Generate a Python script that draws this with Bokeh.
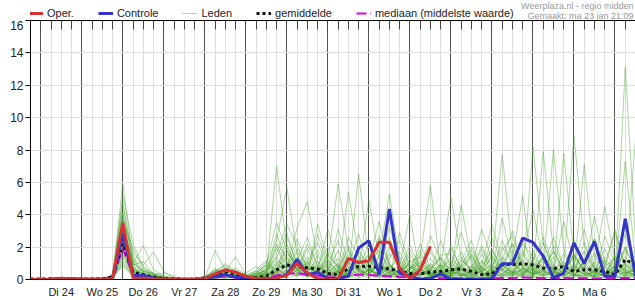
from bokeh.plotting import figure
from bokeh.layouts import column
from bokeh.models import Range1d, FixedTicker, LinearAxis, Legend, LegendItem, Label
from bokeh.embed import file_html
from bokeh.resources import INLINE
import pandas as pd

# ---- data (6-hourly, from ma 23 jan 18:00) ----
start = pd.Timestamp("2023-01-23 18:00")
n_steps = 60
dag_labels = ["Di 24", "Wo 25", "Do 26", "Vr 27", "Za 28", "Zo 29", "Ma 30",
              "Di 31", "Wo 1", "Do 2", "Vr 3", "Za 4", "Zo 5", "Ma 6"]
y_ticks = [0, 2, 4, 6, 8, 10, 12, 14, 16]

oper = [0,0,0.02,0.08,0.05,0.02,0.02,0.02,0.05, 3.5, 0.1,0.08,0.05,0.03,0.02,0.02,0.02,
        0.05,0.35,0.6,0.45,0.2, 0.05,0.05,0.1,0.25,1.0,0.4,0.05,0,
        0,1.3,1.05,1.15,2.3,2.3,0.7,0.05,0.6,2.05]

controle = [0,0,0.02,0.05,0.05,0.02,0.02,0.02,0.05, 2.8, 0.25,0.25,0.1,0.03,0.02,0.02,0.02,
            0.05,0.2,0.3,0.15,0.1, 0.05,0.05,0.1,0.3,1.25,0.3,0.45,0.05,
            0.05,0.2,1.95,2.4,0.3,4.35,0.4,0.2,0.02,0.05,
            0.35,0.02,0.02,0.02,0.02,0.05,0.98,0.98,2.56,2.3,
            1.44,0.1,0.4,2.26,0.98,2.36,0.2,0.2,3.75,0.2]

gemiddelde = [0.03,0.03,0.05,0.05,0.05,0.03,0.03,0.05,0.15, 2.2, 0.45,0.3,0.15,0.07,0.03,0.02,0.02,
              0.1,0.25,0.4,0.25,0.12, 0.1,0.2,0.6,0.9,0.8,0.72,0.65,0.37,
              0.3,0.65,0.8,0.82,0.75,0.65,0.5,0.38,0.35,0.45,
              0.5,0.6,0.65,0.5,0.3,0.35,0.92,0.92,0.98,0.9,
              0.7,0.65,0.82,0.5,0.6,0.6,0.5,0.3,1.23,0.9]

mediaan = [0,0,0,0,0,0,0,0,0.08, 1.9, 0.3,0.2,0.1,0,0,0,0,
           0,0.1,0.2,0.1,0.05, 0.05,0.1,0.25,0.35,0.4,0.3,0.25,0.15,
           0.1,0.25,0.3,0.28,0.22,0.2,0.15,0.1,0.1,0.08,
           0.08,0.1,0.08,0.06,0.05,0.08,0.1,0.1,0.12,0.1,
           0.1,0.08,0.1,0.08,0.08,0.06,0.08,0.06,0.1,0.08]

lid01 = [0,0,0,0,0,0,0,0,0.1, 5.9, 1.2,0.4,0.2,0,0,0,0, 0,0.3,0.2,0.1,0, 0.1,0.5,7.0,2.0,0.8,0.3,1.5,0.4,0.2,1.1,0.6,0.3,2.1,0.5,0.1,0.3,1.2,0.4, 0.2,0.9,0.3,0.1,0.6,1.8,0.7,0.3,1.2,0.5,2.3,0.6,0.2,1.0,3.1,0.8,0.3,1.5,0.6,0.2]
lid02 = [0,0,0.1,0,0,0,0,0,0.2, 5.2, 2.2,0.8,0.3,0.1,0,0,0, 0.1,1.8,0.6,0.2,0, 0.3,1.0,2.4,5.7,1.5,0.6,0.9,0.2,0.5,2.6,1.4,0.4,0.8,3.2,1.1,0.2,0.6,1.9, 0.7,0.3,1.1,2.4,0.5,0.9,7.7,1.6,0.4,0.8,1.3,0.2,0.6,2.0,0.9,0.3,1.1,0.5,1.8,0.9]
lid03 = [0,0,0,0,0,0,0,0,0.1, 4.8, 1.0,2.1,0.6,0.2,0.1,0,0, 0,0.2,0.5,1.4,0.3, 0.1,0.2,1.1,0.8,3.2,4.8,1.2,0.3,0.1,0.4,1.7,0.9,0.2,1.3,2.4,0.6,1.0,0.3, 0.5,1.4,0.6,0.2,0.1,0.8,2.0,1.1,0.3,8.2,2.2,0.7,0.4,1.6,0.5,0.2,2.7,1.0,0.4,1.3]
lid04 = [0,0,0,0.1,0,0,0,0,0.3, 4.5, 1.6,0.9,1.7,0.5,0.1,0,0, 0,0.4,0.8,0.3,0.1, 0.4,0.9,3.5,1.8,0.6,1.9,0.5,3.1,0.8,0.3,6.5,1.2,0.4,0.9,0.3,1.1,1.4,5.8, 0.6,0.3,0.9,1.8,0.7,0.4,1.2,3.0,0.9,0.5,7.9,1.7,0.6,0.3,1.0,2.5,0.8,0.2,7.3,1.1]
lid05 = [0,0,0,0,0,0,0,0,0.1, 4.2, 0.9,0.5,0.2,0.1,0,0,0, 0.1,0.6,0.3,0.1,0, 0,0.3,1.6,3.4,2.1,0.7,0.4,1.2,5.9,1.8,0.6,4.9,1.3,0.4,0.2,0.8,0.3,0.6, 1.5,1.6,0.4,0.9,0.3,1.5,0.6,0.2,2.2,1.4,0.7,8.0,1.9,0.5,0.8,0.3,1.2,0.6,0.2,0.9]
lid06 = [0,0.1,0,0,0,0,0,0,0.2, 4.0, 1.4,0.6,0.3,0.4,0.2,0,0, 0,0.1,0.2,0.5,0.2, 0.6,1.2,0.5,2.6,1.0,0.3,2.8,0.9,0.4,5.4,1.5,0.7,0.3,1.6,0.8,4.0,0.2,0.7, 1.3,0.5,4.6,1.2,0.4,0.2,0.9,1.8,0.6,0.3,1.1,0.4,7.8,1.5,0.6,0.9,4.5,1.2,0.3,0.6]
lid07 = [0,0,0,0,0,0.1,0,0,0.1, 3.8, 0.7,0.3,0.1,0,0,0,0, 0,0.5,0.9,0.4,0.1, 0.2,0.1,0.8,1.3,0.5,2.2,0.9,0.4,3.1,1.0,0.5,0.2,1.4,5.3,1.2,0.4,0.9,0.3, 0.8,5.1,1.3,0.5,1.9,0.6,0.3,1.0,0.4,1.7,0.6,0.2,0.8,8.9,2.1,0.7,0.3,1.4,0.5,8.7]
lid08 = [0,0,0,0,0,0,0,0.1,0.2, 3.6, 1.9,0.7,0.4,0.1,0,0,0, 0.1,0.3,0.6,0.2,0.1, 0.5,0.3,2.1,0.9,0.4,1.1,0.6,0.2,0.8,0.3,1.9,0.6,2.7,0.9,0.4,1.8,0.5,0.2, 1.0,0.4,0.2,0.7,3.1,1.2,0.5,1.3,5.2,0.4,0.9,0.3,1.6,0.5,7.1,1.3,0.6,0.2,13.1,2.4]
lid09 = [0,0,0,0,0,0,0,0,0.1, 3.5, 0.6,0.2,0.1,0,0,0,0, 0,0.2,0.4,0.6,0.2, 0.3,0.6,1.9,0.7,2.5,1.0,0.3,0.6,1.8,0.5,0.2,1.1,3.6,0.9,0.3,0.5,2.2,0.7, 0.3,0.8,2.9,1.0,0.4,2.6,0.9,0.3,1.4,4.3,1.1,0.5,0.2,0.7,1.8,0.6,0.2,0.9,3.3,0.8]
lid10 = [0,0,0,0,0,0,0,0,0.2, 3.3, 1.1,0.4,0.2,0.1,0,0,0, 0.1,0.7,0.3,0.2,0.1, 0.2,0.8,0.4,1.6,0.9,0.4,3.4,1.2,0.5,0.9,2.8,0.6,0.3,0.8,0.4,1.5,0.6,2.7, 1.2,0.4,0.7,0.3,1.6,0.5,3.8,1.2,0.4,0.9,0.3,2.1,0.8,0.3,0.6,3.9,1.0,0.4,0.7,0.2]
lid11 = [0,0,0,0,0.1,0,0,0,0.1, 3.1, 0.8,0.3,0.2,0,0,0,0, 0,0.1,0.3,0.2,0.4, 0.8,0.4,0.3,2.2,0.6,0.2,0.9,2.0,0.7,0.3,0.5,1.6,0.6,0.2,2.9,0.8,0.3,0.5, 2.4,0.7,0.3,0.5,0.9,3.4,1.1,0.4,0.6,0.2,1.3,0.5,3.6,1.0,0.4,0.2,0.8,2.9,0.9,0.3]
lid12 = [0,0,0,0,0,0,0,0.1,0.1, 3.0, 0.5,0.3,0.1,0,0,0,0, 0.2,0.5,0.2,0.1,0, 0.1,0.4,2.8,1.1,0.5,1.4,0.4,0.2,0.6,1.9,0.5,2.3,0.8,0.3,0.1,0.6,1.4,0.4, 0.2,2.0,0.6,1.5,0.4,0.2,1.8,2.7,0.8,0.3,0.6,0.2,0.4,2.4,0.7,1.6,0.5,0.3,2.0,0.5]
lid13 = [0,0,0,0,0,0,0,0,0.2, 2.9, 1.3,0.5,0.4,0.2,0.1,0,0, 0,0.3,0.2,0.3,0.1, 0.4,0.2,0.9,0.5,1.7,0.7,0.3,1.5,0.8,0.2,0.4,0.9,1.8,0.6,0.2,0.3,0.8,1.3, 0.5,0.2,1.2,0.6,2.1,0.8,0.3,0.9,2.5,0.7,0.3,1.4,0.5,0.2,1.2,0.4,0.9,3.1,0.6,1.5]
lid14 = [0,0.1,0,0,0,0,0,0,0.1, 2.7, 0.9,1.1,0.3,0.1,0,0,0, 0,0.4,1.0,0.5,0.2, 0.2,0.6,1.3,2.9,0.8,0.3,0.5,0.9,2.4,0.7,0.3,0.6,0.2,2.0,0.7,0.3,0.5,0.9, 0.4,1.1,0.3,0.2,0.8,1.9,0.6,2.2,0.7,0.3,1.5,0.6,0.2,0.5,1.7,0.4,0.2,0.6,2.8,0.7]
lid15 = [0,0,0,0,0,0,0,0,0.1, 2.5, 0.4,0.2,0.1,0,0,0,0, 0,0.1,0.2,0.1,0, 0.1,0.3,0.6,0.4,1.2,2.6,0.8,0.3,0.1,0.7,1.2,0.4,0.9,0.3,0.6,2.1,0.7,0.2, 0.9,0.3,0.5,1.4,0.4,0.1,0.6,1.3,0.4,0.2,0.9,2.6,0.8,0.3,0.1,0.5,1.9,0.6,0.2,1.2]
lid16 = [0,0,0,0,0,0,0.1,0,0.3, 2.4, 0.7,0.3,0.2,0.1,0,0,0, 0.1,0.6,0.4,0.7,0.3, 0.5,1.1,0.4,0.8,0.3,0.9,1.8,0.6,0.2,1.4,0.5,0.3,1.1,0.4,1.7,0.5,0.2,1.0, 0.3,0.6,1.7,0.5,1.2,0.4,0.2,0.8,1.6,0.5,0.2,0.7,1.1,0.4,2.3,0.6,0.3,1.2,0.5,0.2]
lid17 = [0,0,0,0,0,0,0,0,0.1, 2.2, 0.5,0.2,0.1,0,0,0,0, 0,0.2,0.1,0.3,0.1, 0,0.2,0.7,0.3,0.9,0.4,0.2,0.7,1.3,0.5,0.2,0.6,0.3,1.0,0.4,0.2,1.6,0.5, 0.2,0.4,0.9,0.3,0.1,0.5,1.4,0.5,0.2,1.0,0.4,0.2,0.6,1.3,0.4,0.2,0.7,0.3,1.0,0.3]
lid18 = [0,0,0,0,0,0,0,0,0, 2.0, 0.3,0.1,0,0,0,0,0, 0,0.1,0.3,0.2,0, 0.2,0.5,1.0,0.4,0.2,0.6,1.1,0.3,0.1,0.5,0.9,1.5,0.4,0.2,0.6,0.9,0.3,0.1, 0.6,0.2,0.3,0.8,0.3,0.6,0.2,0.4,1.1,0.3,0.7,0.2,0.5,0.9,0.3,0.1,0.4,0.8,0.3,0.6]
lid19 = [0,0,0,0,0,0,0,0,0.1, 1.9, 0.6,0.4,0.2,0.1,0,0,0, 0,0.2,0.1,0.2,0.1, 0.3,0.2,0.5,1.0,0.4,0.3,0.8,0.4,1.0,0.3,0.7,0.2,0.5,0.8,0.3,1.2,0.4,0.6, 0.3,0.9,0.2,0.5,0.7,0.2,0.9,0.4,0.3,0.6,1.3,0.4,0.2,0.6,0.3,0.9,0.4,0.2,0.5,0.3]
lid20 = [0,0,0,0,0,0,0,0,0.1, 1.8, 0.4,0.6,0.3,0,0,0,0, 0,0.3,0.5,0.3,0.1, 0.1,0.4,0.2,0.6,0.3,1.0,0.4,0.2,0.5,0.8,0.3,0.6,0.2,0.4,0.9,0.3,0.6,0.2, 0.4,0.2,0.6,0.3,0.5,0.9,0.3,0.2,0.7,0.3,0.5,0.2,0.4,0.8,0.3,0.5,0.2,0.6,0.4,0.2]
lid21 = [0,0,0,0,0,0,0,0,0.1, 1.6, 0.3,0.2,0.1,0,0,0,0, 0,0.1,0.1,0.1,0, 0,0.1,0.3,0.5,0.2,0.4,0.2,0.6,0.3,0.1,0.4,0.7,0.3,0.2,0.5,0.2,0.4,0.3, 0.2,0.5,0.3,0.1,0.4,0.2,0.6,0.3,0.2,0.4,0.2,0.5,0.3,0.2,0.5,0.2,0.3,0.5,0.2,0.4]
lid22 = [0,0,0,0,0,0,0,0,0, 1.5, 0.2,0.1,0,0,0,0,0, 0,0.2,0.4,0.1,0, 0.1,0.2,0.4,0.2,0.6,0.3,0.1,0.3,0.5,0.2,0.3,0.1,0.4,0.6,0.2,0.1,0.3,0.4, 0.1,0.3,0.2,0.4,0.1,0.3,0.2,0.5,0.2,0.1,0.3,0.4,0.2,0.1,0.3,0.2,0.4,0.1,0.2,0.3]
lid23 = [0,0,0,0,0,0,0,0,0.1, 1.4, 0.5,0.2,0.1,0,0,0,0, 0,0.4,0.6,0.2,0.1, 0.3,0.7,1.4,0.6,0.3,0.8,0.5,1.2,0.4,2.1,0.7,0.3,1.0,0.4,0.2,0.7,1.1,0.4, 0.9,0.3,1.4,0.5,0.2,0.7,1.0,0.4,1.8,0.6,0.3,0.9,0.4,1.5,0.5,0.2,0.8,1.3,0.4,0.7]
lid24 = [0,0,0,0,0,0,0,0,0.1, 1.2, 0.4,0.2,0.1,0,0,0,0, 0,0.1,0.2,0.1,0, 0.2,0.3,0.9,1.8,0.6,0.2,0.4,1.0,0.5,0.3,1.3,0.5,0.2,0.7,1.4,0.4,0.2,0.8, 0.5,0.2,0.7,1.6,0.5,0.3,0.9,0.4,0.2,1.2,0.5,1.8,0.6,0.2,0.4,1.1,0.3,0.5,0.9,0.4]
lid25 = [0,0,0,0,0,0,0,0,0.1, 1.1, 0.3,0.1,0,0,0,0,0, 0,0.2,0.3,0.2,0.1, 0.1,0.2,0.5,0.3,0.7,0.4,0.2,0.5,0.9,0.3,0.2,0.6,0.9,0.3,0.1,0.4,0.7,0.2, 0.3,0.6,0.2,0.4,0.8,0.3,0.2,0.6,0.3,0.7,0.2,0.4,0.9,0.3,0.2,0.5,0.2,0.7,0.3,0.1]
lid26 = [0,0,0,0,0,0,0,0,0.1, 1.0, 0.2,0.1,0,0,0,0,0, 0,0.1,0.2,0.1,0, 0,0.1,0.2,0.1,0.3,0.2,0.1,0.2,0.4,0.2,0.1,0.3,0.2,0.1,0.3,0.2,0.1,0.2, 0.1,0.2,0.1,0.3,0.1,0.2,0.1,0.3,0.1,0.2,0.1,0.2,0.1,0.3,0.1,0.2,0.1,0.2,0.1,0.2]
lid27 = [0,0,0,0,0,0,0,0,0.2, 0.9, 0.3,0.2,0.1,0,0,0,0, 0,0.3,0.2,0.4,0.2, 0.4,0.9,0.6,0.3,1.4,0.5,0.2,0.8,0.4,0.2,0.6,1.3,0.5,0.2,0.5,1.0,0.4,0.2, 0.7,1.2,0.4,0.2,0.6,1.4,0.5,0.2,0.7,0.4,1.6,0.5,0.3,0.6,1.0,0.4,0.2,0.9,1.4,0.5]
lid28 = [0,0,0,0,0,0,0,0,0.1, 0.8, 0.2,0.1,0,0,0,0,0, 0,0.1,0.1,0.2,0.1, 0.2,0.4,0.3,0.9,0.4,0.2,0.6,0.3,0.1,0.4,0.8,0.3,0.1,0.5,0.3,0.2,0.6,0.3, 0.2,0.5,0.3,0.8,0.3,0.1,0.4,0.7,0.3,0.2,0.5,0.3,0.8,0.4,0.2,0.6,0.3,0.1,0.4,0.6]
lid29 = [0,0,0,0,0,0,0,0,0.1, 2.6, 1.0,0.5,0.3,0.1,0,0,0, 0,0.5,0.3,0.2,0.1, 0.3,0.6,2.2,1.4,0.5,1.1,2.3,0.7,0.3,1.6,0.6,0.2,1.5,2.6,0.8,0.3,0.6,1.7, 0.6,2.1,0.7,0.3,1.1,0.5,2.4,0.9,0.3,1.2,2.6,0.9,0.4,1.5,0.6,0.3,1.4,0.5,2.0,0.7]
lid30 = [0,0,0,0,0,0,0,0,0.2, 3.2, 0.8,0.3,0.1,0,0,0,0, 0,0.2,0.6,0.3,0.1, 0.2,0.5,1.2,0.7,1.9,0.8,0.4,1.7,0.6,0.3,1.1,0.5,2.5,0.9,0.3,0.6,1.8,0.5, 1.4,0.5,0.8,2.0,0.7,0.3,1.0,2.2,0.8,0.3,0.6,1.7,0.6,0.2,1.2,2.5,0.8,0.4,1.1,0.5]

leden = [lid01, lid02, lid03, lid04, lid05, lid06, lid07, lid08, lid09, lid10,
         lid11, lid12, lid13, lid14, lid15, lid16, lid17, lid18, lid19, lid20,
         lid21, lid22, lid23, lid24, lid25, lid26, lid27, lid28, lid29, lid30]
for k, lid in enumerate(leden):
    assert len(lid) == n_steps, (k + 1, len(lid))

# ---- time axis (ms) ----
HOUR = 3600 * 1000
t0 = start.value // 10**6
tijd = [t0 + 6 * HOUR * k for k in range(n_steps)]
middernacht = [t0 + 6 * HOUR + 24 * HOUR * k for k in range(15)]
middag = [t0 + 18 * HOUR + 24 * HOUR * k for k in range(len(dag_labels))]

FONT = "Liberation Sans"
C_OPER, C_CTRL, C_LID, C_GEM, C_MED = "#d63434", "#3434c8", "#3f9d22", "#111111", "#dd00dd"
LID_ALPHA = 0.42

# ---------------- main chart ----------------
x_range = Range1d(tijd[0], tijd[-1])
p = figure(width=635, height=280, output_backend="svg", toolbar_location=None,
           x_range=x_range, y_range=Range1d(0, 16),
           min_border_left=30, min_border_right=0, min_border_top=0, min_border_bottom=20,
           outline_line_color=None, background_fill_color="white")

p.xgrid[0].ticker = FixedTicker(ticks=middernacht, minor_ticks=tijd)
p.xgrid[0].grid_line_color = "#555555"
p.xgrid[0].minor_grid_line_color = "#dddddd"
p.ygrid[0].ticker = FixedTicker(ticks=y_ticks)
p.ygrid[0].grid_line_color = "#dddddd"

xa = p.xaxis[0]
xa.ticker = FixedTicker(ticks=middag)
xa.major_label_overrides = {t: lab for t, lab in zip(middag, dag_labels)}
xa.major_tick_out = 0
xa.major_tick_in = 0
xa.minor_tick_line_color = None
xa.axis_line_color = "black"
xa.major_label_text_font = FONT
xa.major_label_text_font_size = "11px"
xa.major_label_text_color = "#222222"
xa.major_label_standoff = 6

ya = p.yaxis[0]
ya.ticker = FixedTicker(ticks=y_ticks)
ya.major_tick_out = 5
ya.major_tick_in = 0
ya.minor_tick_line_color = None
ya.axis_line_color = "black"
ya.major_tick_line_color = "black"
ya.major_label_text_font = FONT
ya.major_label_text_font_size = "12px"
ya.major_label_text_color = "#222222"
ya.major_label_standoff = 2

top = LinearAxis(ticker=FixedTicker(ticks=tijd), major_label_overrides={t: "" for t in tijd},
                 major_label_text_font_size="1px", major_label_standoff=0,
                 major_tick_in=9, major_tick_out=0, minor_tick_line_color=None,
                 axis_line_color="black", major_tick_line_color="#444444")
p.add_layout(top, "above")

def draw_series(fig):
    rl = [fig.line(tijd, lid, line_color=C_LID, line_alpha=LID_ALPHA, line_width=1) for lid in leden]
    rm = fig.line(tijd, mediaan, line_color=C_MED, line_width=2, line_dash="10 4")
    rg = fig.line(tijd, gemiddelde, line_color=C_GEM, line_width=3, line_dash="3 3")
    rc = fig.line(tijd, controle, line_color=C_CTRL, line_width=3)
    ro = fig.line(tijd[:len(oper)], oper, line_color=C_OPER, line_width=3)
    return ro, rc, rl[0], rg, rm

draw_series(p)

# ---------------- header with legend and source text ----------------
# same series drawn in the header, but its y-range lies below the data so only the legend shows
h = figure(width=635, height=20, output_backend="svg", toolbar_location=None,
           x_axis_type=None, y_axis_type=None, x_range=x_range, y_range=Range1d(-20, -10),
           min_border_left=0, min_border_right=0, min_border_top=0, min_border_bottom=0,
           outline_line_color=None)
h.xgrid.visible = False
h.ygrid.visible = False
g_oper, g_ctrl, g_lid, g_gem, g_med = draw_series(h)

legend = Legend(items=[
    LegendItem(label="Oper.", renderers=[g_oper]),
    LegendItem(label="Controle", renderers=[g_ctrl]),
    LegendItem(label="Leden", renderers=[g_lid]),
    LegendItem(label="gemiddelde", renderers=[g_gem]),
    LegendItem(label="mediaan (middelste waarde)", renderers=[g_med]),
], orientation="horizontal", location=(-2, 1), padding=0, margin=0, spacing=24,
    glyph_width=15, glyph_height=12, label_height=12, label_standoff=4,
    label_text_font=FONT, label_text_font_size="11px", label_text_color="#222222",
    border_line_color=None, background_fill_alpha=0)
h.add_layout(legend)

h.add_layout(Label(x=603, y=15, x_units="screen", y_units="screen",
                   text="Weerplaza.nl - regio midden", text_align="right", text_baseline="middle",
                   text_font=FONT, text_font_size="9px", text_color="#9a9a9a"))
h.add_layout(Label(x=603, y=5, x_units="screen", y_units="screen",
                   text="Gemaakt: ma 23 jan 21:09", text_align="right", text_baseline="middle",
                   text_font=FONT, text_font_size="9px", text_color="#9a9a9a"))

layout = column(h, p, spacing=0)
open("out.html", "w").write(file_html(layout, INLINE))
